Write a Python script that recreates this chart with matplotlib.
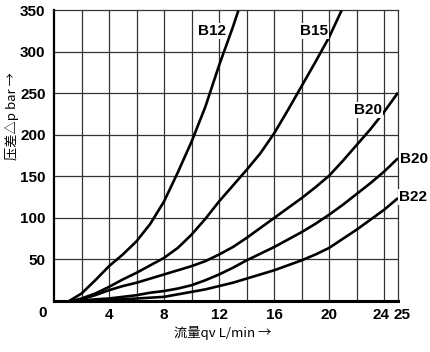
import numpy as np
import matplotlib
matplotlib.use("Agg")
import matplotlib.pyplot as plt
from matplotlib.transforms import ScaledTranslation

plt.rcParams['font.family'] = ['Liberation Sans Narrow', 'Liberation Sans', 'DejaVu Sans']

# curves (flow L/min, pressure drop bar)
b12_x = [1.1, 2, 3, 4, 5, 6, 7, 8, 9, 10, 11, 12, 13, 13.4]
b12_y = [0, 9, 25, 42, 56, 72, 93, 120, 155, 192, 234, 284, 330, 350]

b15_x = [1.3, 2, 3, 4, 5, 6, 7, 8, 9, 10, 11, 12, 13, 14, 15, 16, 17, 18, 19, 20, 20.9]
b15_y = [0, 3, 9, 17, 26, 34, 43, 52, 64, 80, 99, 120, 139, 158, 178, 202, 230, 259, 288, 318, 350]

b20a_x = [1.4, 2, 3, 4, 5, 6, 7, 8, 9, 10, 11, 12, 13, 14, 15, 16, 17, 18, 19, 20, 21, 22, 23, 24, 25]
b20a_y = [0, 2, 7, 13, 18, 22, 27, 32, 37, 42, 48, 56, 65, 76, 88, 100, 112, 124, 137, 151, 169, 188, 207, 228, 251]

b20b_x = [1.6, 3, 4, 5, 6, 7, 8, 9, 10, 11, 12, 13, 14, 15, 16, 17, 18, 19, 20, 21, 22, 23, 24, 25]
b20b_y = [0, 2, 3, 5, 7, 10, 12, 15, 19, 25, 32, 40, 49, 57, 65, 74, 83, 93, 104, 116, 129, 142, 156, 172]

b22_x = [1.8, 3, 4, 5, 6, 7, 8, 9, 10, 11, 12, 13, 14, 15, 16, 17, 18, 19, 20, 21, 22, 23, 24, 25]
b22_y = [0, 1, 1.5, 2, 3, 4, 5, 8, 11, 14, 18, 22, 27, 32, 37, 43, 49, 56, 64, 75, 86, 98, 110, 124]

curves = [
    (b12_x, b12_y, "B12", 11.5, 325),
    (b15_x, b15_y, "B15", 18.9, 325),
    (b20a_x, b20a_y, "B20", 22.8, 230),
    (b20b_x, b20b_y, "B20", 26.2, 171),
    (b22_x, b22_y, "B22", 26.1, 125),
]

x_ticks = [4, 8, 12, 16, 20, 24, 25]
y_ticks = [50, 100, 150, 200, 250, 300, 350]

fig = plt.figure(figsize=(4.31, 3.52), dpi=100)
ax = fig.add_axes([0.1253, 0.1449, 0.7981, 0.8253])

ax.set_xlim(0, 25)
ax.set_ylim(0, 350)

# grid every 2 L/min and every 50 bar
for gx in np.arange(2, 25, 2):
    ax.axvline(gx, color='#333333', linewidth=0.9, zorder=1)
for gy in np.arange(50, 350, 50):
    ax.axhline(gy, color='#333333', linewidth=0.9, zorder=1)

ax.set_xticks(x_ticks)
ax.set_xticklabels([str(t) for t in x_ticks])
ax.set_yticks(y_ticks)
ax.set_yticklabels([str(t) for t in y_ticks])
ax.tick_params(which='both', length=0)
ax.tick_params(axis='x', pad=5, labelsize=11)
ax.tick_params(axis='y', pad=6, labelsize=11)
for lab in ax.get_xticklabels() + ax.get_yticklabels():
    lab.set_fontweight('bold')
labs = ax.get_xticklabels()
labs[-2].set_transform(labs[-2].get_transform() + ScaledTranslation(-3 / 100, 0, fig.dpi_scale_trans))
labs[-1].set_transform(labs[-1].get_transform() + ScaledTranslation(4 / 100, 0, fig.dpi_scale_trans))

ax.text(-0.032, -0.042, "0", transform=ax.transAxes, ha='center', va='center',
        fontsize=11, fontweight='bold')

for side in ['top', 'right']:
    ax.spines[side].set_linewidth(0.9)
    ax.spines[side].set_color('#333333')
ax.spines['left'].set_linewidth(1.6)
ax.spines['bottom'].set_linewidth(2.2)

for xs, ys, name, tx, ty in curves:
    ax.plot(xs, ys, color='black', linewidth=1.9, solid_capstyle='butt', zorder=3)
    ax.text(tx, ty, name, ha='center', va='center', fontsize=11, fontweight='bold',
            bbox=dict(facecolor='white', edgecolor='none', pad=0.8), zorder=4, clip_on=False)

cjk = ['Noto Sans CJK SC', 'DejaVu Sans']
fig.text(223 / 431, 1 - 333 / 352, "流量qv L/min →", ha='center', va='center',
         fontsize=9.5, family=cjk)
fig.text(12 / 431, 1 - 116 / 352, "压差△p bar →", ha='center', va='center',
         rotation=90, fontsize=9.5, family=cjk)

fig.savefig("out.png", dpi=100)
